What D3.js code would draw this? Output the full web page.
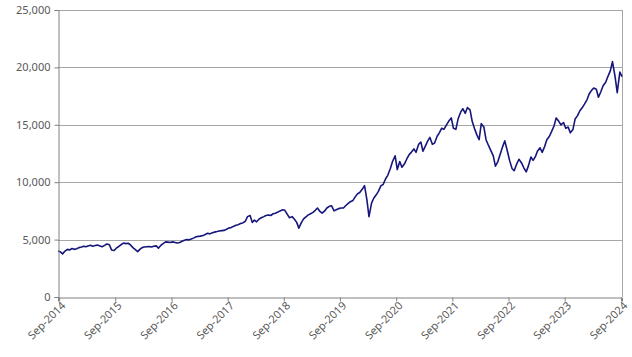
<!DOCTYPE html>
<html>
<head>
<meta charset="utf-8">
<script src="https://cdn.jsdelivr.net/npm/d3@7"></script>
<style>
  html, body { margin: 0; padding: 0; background: #fff; }
  svg { display: block; }
  text { font-family: "Noto Sans", "DejaVu Sans", sans-serif; fill: #595959; }
</style>
</head>
<body>
<svg id="chart" width="632" height="357"></svg>
<script>
// ---- data (semi-monthly readings, day 1 and day 15 of each month, from Sep-2014) ----
const startYear = 2014;
const startMonth = 8; // September (0-based)
const values = [
  4000, 3950,   3750, 3980,   4150, 4100,   4220, 4150,   // Sep14 - Dec14
  4200, 4300,   4350, 4420,   4380, 4450,   4500, 4420,   // Jan15 - Apr15
  4480, 4520,   4450, 4380,   4500, 4620,   4550, 4100,   // May15 - Aug15
  4050, 4250,   4400, 4550,   4700, 4650,   4680, 4550,   // Sep15 - Dec15
  4300, 4150,   3950, 4150,   4300, 4350,   4380, 4400,   // Jan16 - Apr16
  4350, 4420,   4450, 4250,   4500, 4650,   4800, 4780,   // May16 - Aug16
  4750, 4800,   4750, 4700,   4750, 4850,   4950, 5000,   // Sep16 - Dec16
  4980, 5050,   5150, 5250,   5280, 5300,   5350, 5450,   // Jan17 - Apr17
  5550, 5500,   5600, 5650,   5700, 5750,   5780, 5800,   // May17 - Aug17
  5900, 6000,   6050, 6150,   6250, 6300,   6400, 6450,   // Sep17 - Dec17
  6600, 7000,   7100, 6500,   6700, 6550,   6800, 6900,   // Jan18 - Apr18
  7000, 7100,   7150, 7100,   7250, 7300,   7400, 7500,   // May18 - Aug18
  7600, 7550,   7200, 6900,   7000, 6800,   6500, 6000,   // Sep18 - Dec18
  6500, 6800,   7000, 7150,   7250, 7350,   7550, 7750,   // Jan19 - Apr19
  7450, 7300,   7500, 7750,   7900, 7950,   7500, 7600,   // May19 - Aug19
  7700, 7750,   7750, 7950,   8150, 8300,   8400, 8700,   // Sep19 - Dec19
  9000, 9100,   9400, 9700,   8500, 7000,   8200, 8600,   // Jan20 - Apr20
  8900, 9200,   9700, 9800,   10300, 10600, 11200, 11800, // May20 - Aug20
  12300, 11100, 11800, 11300, 11600, 12000, 12400, 12600, // Sep20 - Dec20
  12900, 12600, 13300, 13500, 12700, 13100, 13600, 13900, // Jan21 - Apr21
  13300, 13400, 14000, 14300, 14700, 14600, 15000, 15300, // May21 - Aug21
  15600, 14700, 14600, 15500, 16100, 16400, 16000, 16500, // Sep21 - Dec21
  16300, 15300, 14600, 14100, 13700, 15100, 14800, 13700, // Jan22 - Apr22
  13200, 12800, 12300, 11400, 11800, 12400, 13100, 13600, // May22 - Aug22
  12700, 11900, 11200, 11000, 11600, 12000, 11700, 11300, // Sep22 - Dec22
  10900, 11400, 12200, 11900, 12200, 12700, 13000, 12600, // Jan23 - Apr23
  13100, 13700, 14000, 14400, 14900, 15600, 15300, 15000, // May23 - Aug23
  15200, 14700, 14800, 14300, 14600, 15500, 15800, 16200, // Sep23 - Dec23
  16500, 16800, 17200, 17700, 18000, 18200, 18100, 17400, // Jan24 - Apr24
  17900, 18400, 18700, 19200, 19700, 20500, 19200, 17800, // May24 - Aug24
  19600, 19200                                            // Sep24
];
const yTicks = [0, 5000, 10000, 15000, 20000, 25000];
const xTickYears = [2014, 2015, 2016, 2017, 2018, 2019, 2020, 2021, 2022, 2023, 2024];

const data = values.map((v, i) => {
  const m = Math.floor(i / 2);
  const day = (i % 2 === 0) ? 1 : 15;
  return { date: new Date(startYear, startMonth + m, day), value: v };
});

// ---- layout ----
const W = 632, H = 357;
const margin = { top: 10, right: 10, bottom: 60, left: 58 };
const iw = W - margin.left - margin.right;
const ih = H - margin.top - margin.bottom;

const svg = d3.select("#chart");
const g = svg.append("g").attr("transform", `translate(${margin.left},${margin.top})`);

const x = d3.scaleTime()
  .domain([data[0].date, data[data.length - 1].date])
  .range([0, iw]);
const y = d3.scaleLinear().domain([0, 25000]).range([ih, 0]);

// gridlines
g.append("g").selectAll("line").data(yTicks.filter(d => d > 0)).join("line")
  .attr("x1", 0).attr("x2", iw)
  .attr("y1", d => Math.round(y(d)) + 0.5).attr("y2", d => Math.round(y(d)) + 0.5)
  .attr("stroke", "#a6a6a6").attr("stroke-width", 1);

// right border
g.append("line")
  .attr("x1", iw + 0.5).attr("x2", iw + 0.5)
  .attr("y1", 0).attr("y2", ih)
  .attr("stroke", "#a6a6a6").attr("stroke-width", 1);

// line
const line = d3.line().x(d => x(d.date)).y(d => y(d.value)).curve(d3.curveLinear);
g.append("path").datum(data)
  .attr("d", line)
  .attr("fill", "none")
  .attr("stroke", "#16167c")
  .attr("stroke-width", 1.6)
  .attr("stroke-linejoin", "round");

// y axis
const yAxis = d3.axisLeft(y).tickValues(yTicks).tickSize(4).tickPadding(4)
  .tickFormat(d3.format(","));
const ya = g.append("g").attr("transform", "translate(0.5,0)").call(yAxis);
ya.select(".domain").attr("stroke", "#808080");
ya.selectAll(".tick line").attr("stroke", "#808080");
ya.selectAll(".tick text").attr("font-size", 11).attr("fill", "#595959");

// x axis
const xTickDates = xTickYears.map(yr => new Date(yr, 8, 8));
const xAxis = d3.axisBottom(x).tickValues(xTickDates).tickSize(4)
  .tickFormat(d => "Sep-" + d.getFullYear());
const xa = g.append("g").attr("transform", `translate(0,${ih + 0.5})`).call(xAxis);
xa.select(".domain").attr("stroke", "#808080");
xa.selectAll(".tick line").attr("stroke", "#808080");
xa.selectAll(".tick text")
  .attr("font-size", 11).attr("fill", "#595959")
  .attr("text-anchor", "end")
  .attr("transform", "translate(4,6) rotate(-45)")
  .attr("dx", 0).attr("dy", "0.35em").attr("y", 0).attr("x", 0);
</script>
</body>
</html>
